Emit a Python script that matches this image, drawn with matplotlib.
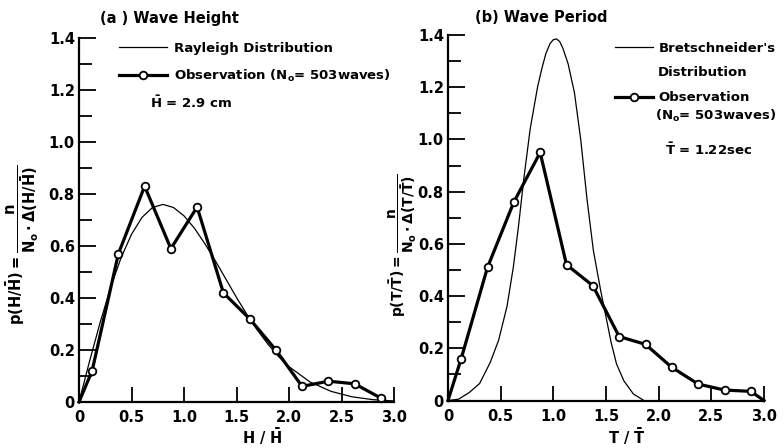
import matplotlib
matplotlib.use('Agg')
import matplotlib.pyplot as plt

plt.rcParams['font.family'] = ['DejaVu Sans']
plt.rcParams['font.weight'] = 'bold'
plt.rcParams['mathtext.fontset'] = 'dejavusans'
plt.rcParams['mathtext.default'] = 'bf'

h_curve_x = [0.0, 0.1, 0.2, 0.3, 0.4, 0.5, 0.6, 0.7, 0.8, 0.9, 1.0, 1.1, 1.2, 1.3, 1.4, 1.5,
             1.6, 1.7, 1.8, 1.9, 2.0, 2.2, 2.4, 2.6, 2.8, 3.0]
h_curve_y = [0.0, 0.156, 0.304, 0.439, 0.554, 0.645, 0.710, 0.748, 0.760, 0.748, 0.716, 0.668,
             0.608, 0.542, 0.472, 0.402, 0.336, 0.276, 0.222, 0.175, 0.136, 0.077, 0.041,
             0.020, 0.009, 0.004]
h_obs_x = [0.0, 0.125, 0.375, 0.625, 0.875, 1.125, 1.375, 1.625, 1.875, 2.125, 2.375, 2.625, 2.875]
h_obs_y = [0.0, 0.12, 0.57, 0.83, 0.59, 0.75, 0.42, 0.32, 0.20, 0.06, 0.08, 0.07, 0.015]

t_curve_x = [0.0, 0.1, 0.2, 0.3, 0.4, 0.48, 0.56, 0.62, 0.67, 0.72, 0.78, 0.85, 0.89, 0.93,
             0.97, 1.00, 1.03, 1.06, 1.09, 1.14, 1.20, 1.26, 1.32, 1.38, 1.45, 1.50, 1.55,
             1.60, 1.67, 1.76, 1.86]
t_curve_y = [0.0, 0.005, 0.03, 0.065, 0.145, 0.23, 0.36, 0.51, 0.67, 0.85, 1.04, 1.20, 1.27,
             1.33, 1.368, 1.382, 1.385, 1.375, 1.35, 1.29, 1.18, 1.00, 0.77, 0.575, 0.42, 0.32,
             0.22, 0.14, 0.075, 0.025, 0.0]
t_obs_x = [0.0, 0.125, 0.375, 0.625, 0.875, 1.125, 1.375, 1.625, 1.875, 2.125, 2.375, 2.625, 2.875, 3.0]
t_obs_y = [0.0, 0.16, 0.51, 0.76, 0.95, 0.52, 0.44, 0.245, 0.215, 0.127, 0.063, 0.04, 0.035, 0.0]

x_ticks = [0, 0.5, 1.0, 1.5, 2.0, 2.5, 3.0]
x_labels = ['0', '0.5', '1.0', '1.5', '2.0', '2.5', '3.0']
y_ticks = [0, 0.2, 0.4, 0.6, 0.8, 1.0, 1.2, 1.4]
y_labels = ['0', '0.2', '0.4', '0.6', '0.8', '1.0', '1.2', '1.4']
y_minor = [0.1, 0.3, 0.5, 0.7, 0.9, 1.1, 1.3]

W, H = 784, 448
fig = plt.figure(figsize=(W / 100, H / 100), dpi=100)


def px(x, y):
    return x / W, 1 - y / H


def style_axis(ax):
    ax.set_xlim(0, 3.0)
    ax.set_ylim(0, 1.4)
    for s in ['top', 'right']:
        ax.spines[s].set_visible(False)
    for s in ['left', 'bottom']:
        ax.spines[s].set_linewidth(1.6)
    ax.set_xticks(x_ticks)
    ax.set_xticklabels(x_labels)
    ax.set_yticks(y_ticks)
    ax.set_yticklabels(y_labels)
    ax.set_yticks(y_minor, minor=True)
    ax.tick_params(axis='x', direction='in', length=11, width=1.3, pad=6, labelsize=10.5)
    ax.tick_params(axis='y', direction='in', length=12, width=1.3, pad=3, labelsize=10.5)
    ax.tick_params(axis='y', which='minor', direction='in', length=9, width=1.3)
    ax.patch.set_visible(False)


# left panel: x 0 -> 79px, 3.0 -> 394px ; y 0 -> 402px, 1.4 -> 38px
ax1 = fig.add_axes([79 / W, 1 - 402 / H, 315 / W, 364 / H])
style_axis(ax1)
ax1.plot(h_curve_x, h_curve_y, color='black', lw=0.9, label='Rayleigh Distribution')
ax1.plot(h_obs_x, h_obs_y, color='black', lw=2.3, marker='o', markersize=5.5,
         markerfacecolor='white', markeredgewidth=1.3, markevery=list(range(1, len(h_obs_x))),
         clip_on=False, label=r'Observation (N$_o$= 503waves)')
ax1.legend(loc='upper left', bbox_to_anchor=px(119, 42), bbox_transform=fig.transFigure,
           frameon=False, fontsize=9.5, handlelength=3.6, handletextpad=0.6,
           borderpad=0, borderaxespad=0, labelspacing=0.95, numpoints=1)

# right panel: x 0 -> 448px, 3.0 -> 764px ; y 0 -> 400.5px, 1.4 -> 35px
ax2 = fig.add_axes([448 / W, 1 - 400.5 / H, 316 / W, 365.5 / H])
style_axis(ax2)
ax2.plot(t_curve_x, t_curve_y, color='black', lw=0.9, label="Bretschneider's")
ax2.plot(t_obs_x, t_obs_y, color='black', lw=2.3, marker='o', markersize=5.5,
         markerfacecolor='white', markeredgewidth=1.3, markevery=list(range(1, len(t_obs_x) - 1)),
         clip_on=False, label='Observation')
ax2.legend(loc='upper left', bbox_to_anchor=px(615, 42), bbox_transform=fig.transFigure,
           frameon=False, fontsize=9.5, handlelength=2.9, handletextpad=0.4,
           borderpad=0, borderaxespad=0, labelspacing=2.75, numpoints=1)

# titles and annotations
fig.text(*px(100, 18), '(a ) Wave Height', fontsize=10.5, ha='left', va='center')
fig.text(*px(475, 18), '(b) Wave Period', fontsize=10.5, ha='left', va='center')
fig.text(*px(150, 103), r'$\bar{H}$ = 2.9 cm', fontsize=9.5, ha='left', va='center')
fig.text(*px(658, 72), 'Distribution', fontsize=9.5, ha='left', va='center')
fig.text(*px(655, 116), r'(N$_o$= 503waves)', fontsize=9.5, ha='left', va='center')
fig.text(*px(665, 150), r'$\bar{T}$ = 1.22sec', fontsize=9.5, ha='left', va='center')

# axis labels
fig.text(*px(262, 437), r'$H\ /\ \bar{H}$', fontsize=10.5, ha='center', va='center')
fig.text(*px(627, 437), r'$T\ /\ \bar{T}$', fontsize=10.5, ha='center', va='center')
fig.text(*px(23, 245), r'$p(H/\bar{H})=\dfrac{n}{N_o\cdot\Delta(H/\bar{H})}$',
         fontsize=10.5, rotation=90, ha='center', va='center')
fig.text(*px(403, 245), r'$p(T/\bar{T})=\dfrac{n}{N_o\cdot\Delta(T/\bar{T})}$',
         fontsize=10, rotation=90, ha='center', va='center')

fig.savefig('out.png', dpi=100)
